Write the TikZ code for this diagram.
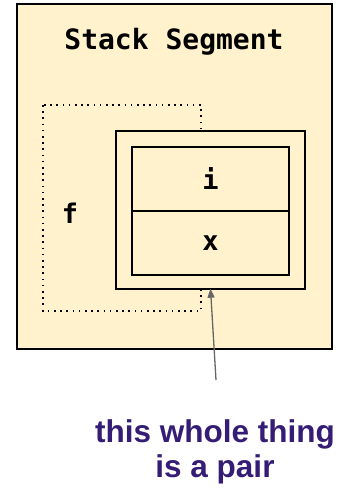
\documentclass[tikz,border=0pt]{standalone}
\usepackage{fontspec}
\setmainfont{Liberation Sans}
\setmonofont{DejaVu Sans Mono}
\usepackage{xcolor}
\usetikzlibrary{arrows.meta,positioning}
\definecolor{cream}{HTML}{FFF2CC}
\definecolor{notepurple}{HTML}{351C75}

\begin{document}
\begin{tikzpicture}[x=1pt, y=-1pt,
  box/.style={draw, line width=1.4pt, fill=cream, inner sep=0pt},
  cell/.style={box, minimum width=157pt, minimum height=64pt, font=\ttfamily\bfseries\fontsize{27}{30}\selectfont},
  label/.style={font=\ttfamily\bfseries\fontsize{27}{30}\selectfont, inner sep=0pt},
  arrow/.style={-{Triangle[length=9pt, width=7pt]}, line width=1.3pt, draw=gray!80!black},
  note/.style={font=\bfseries\fontsize{31.5}{35}\selectfont, text=notepurple, align=center, inner sep=0pt}
]
\useasboundingbox (0,0) rectangle (341,488);

\node[box, minimum width=315pt, minimum height=345pt] (seg) at (174.5,176.5) {};
\node[label, font=\ttfamily\bfseries\fontsize{28}{32}\selectfont] (title) at (174,42) {Stack Segment};

% dotted frame of f, partly hidden by the pair
\draw[line width=1.6pt, dash pattern=on 1.6pt off 4.6pt] (43,105) rectangle (201,311);
\node[label] (f) at (70,213) {f};

\node[box, minimum width=189pt, minimum height=158pt] (pair) at (210.5,210) {};
\node[cell] (ci) at (210.5,179) {i};
\node[cell] (cx) at (210.5,243) {x};

\node[note] (note) at (215,452) {this whole thing\\is a pair};
\coordinate (tail) at (216,380);
\draw[arrow] (tail) -- ([yshift=1pt]pair.south);
\end{tikzpicture}
\end{document}
